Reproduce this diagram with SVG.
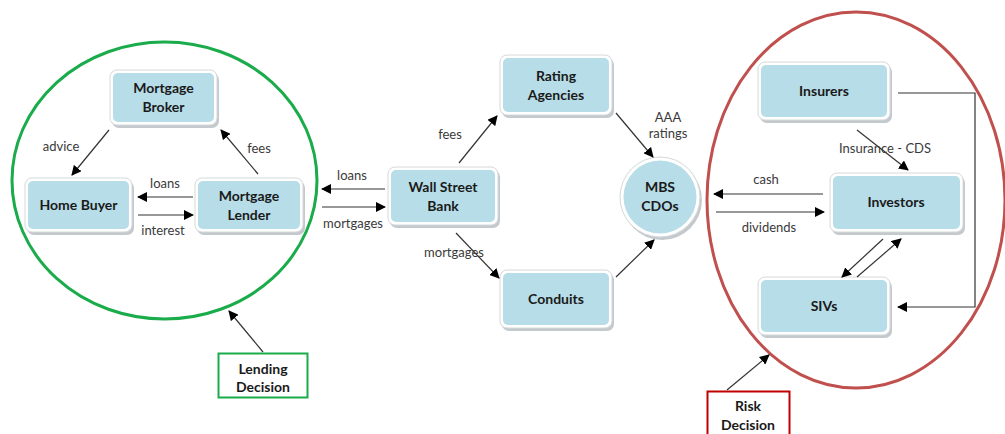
<svg xmlns="http://www.w3.org/2000/svg" width="1005" height="434" viewBox="0 0 1005 434">
<defs>
<marker id="ah" viewBox="0 0 10 10" refX="9" refY="5" markerWidth="10" markerHeight="10" markerUnits="userSpaceOnUse" orient="auto">
<path d="M0,0 L10,5 L0,10 z" fill="#000"/>
</marker>
</defs>
<style>
.sh{fill:#b4bcc0;opacity:0.8}
.out{fill:#ffffff;stroke:#d4d8da;stroke-width:1}
.in{fill:#b7dde8}
.t{font-family:Lato,"Open Sans",sans-serif;font-weight:bold;font-size:14px;fill:#1a1a1a;text-anchor:middle}
.l{font-family:Lato,"Open Sans",sans-serif;font-size:13px;fill:#3a3a3a;text-anchor:middle}
.c{fill:none;stroke:#333;stroke-width:1.2;marker-end:url(#ah)}
.cn{fill:none;stroke:#333;stroke-width:1.2}
</style>
<rect width="1005" height="434" fill="#ffffff"/>
<g id="green-ellipse"><ellipse cx="164.5" cy="180.5" rx="152.5" ry="138.5" fill="none" stroke="#1aab4b" stroke-width="3"/></g>
<g id="red-ellipse"><ellipse cx="856" cy="200" rx="149" ry="188" fill="none" stroke="#c0504d" stroke-width="3"/></g>

<g id="broker"><rect class="sh" x="112" y="73" width="107" height="55" rx="7"/><rect class="out" x="110" y="70" width="107" height="55" rx="7"/><rect class="in" x="113" y="73" width="101" height="49" rx="5"/><text class="t" x="163.5" y="93">Mortgage</text><text class="t" x="163.5" y="112">Broker</text></g>
<g id="homebuyer"><rect class="sh" x="27" y="181" width="107" height="54" rx="7"/><rect class="out" x="25" y="178" width="107" height="54" rx="7"/><rect class="in" x="28" y="181" width="101" height="48" rx="5"/><text class="t" x="78.5" y="210">Home Buyer</text></g>
<g id="lender"><rect class="sh" x="197" y="181" width="108" height="54" rx="7"/><rect class="out" x="195" y="178" width="108" height="54" rx="7"/><rect class="in" x="198" y="181" width="102" height="48" rx="5"/><text class="t" x="249" y="201">Mortgage</text><text class="t" x="249" y="220">Lender</text></g>
<g id="lending-decision"><rect x="218.5" y="353.5" width="89" height="44" fill="#fff" stroke="#1aab4b" stroke-width="2"/><text class="t" x="263" y="374">Lending</text><text class="t" x="263" y="392">Decision</text></g>

<g id="wallstreet"><rect class="sh" x="390" y="170" width="110" height="58" rx="7"/><rect class="out" x="388" y="167" width="110" height="58" rx="7"/><rect class="in" x="391" y="170" width="104" height="52" rx="5"/><text class="t" x="443" y="192">Wall Street</text><text class="t" x="443" y="211">Bank</text></g>
<g id="rating"><rect class="sh" x="502" y="58" width="112" height="60" rx="7"/><rect class="out" x="500" y="55" width="112" height="60" rx="7"/><rect class="in" x="503" y="58" width="106" height="54" rx="5"/><text class="t" x="556" y="81">Rating</text><text class="t" x="556" y="100">Agencies</text></g>
<g id="conduits"><rect class="sh" x="502" y="273" width="112" height="58" rx="7"/><rect class="out" x="500" y="270" width="112" height="58" rx="7"/><rect class="in" x="503" y="273" width="106" height="52" rx="5"/><text class="t" x="556" y="304">Conduits</text></g>
<g id="mbs"><circle class="sh" cx="662" cy="200" r="40"/><circle class="out" cx="660" cy="197" r="40"/><circle class="in" cx="660" cy="197" r="36.5"/><text class="t" x="660" y="192">MBS</text><text class="t" x="660" y="211">CDOs</text></g>

<g id="insurers"><rect class="sh" x="760" y="65" width="132" height="58" rx="7"/><rect class="out" x="758" y="62" width="132" height="58" rx="7"/><rect class="in" x="761" y="65" width="126" height="52" rx="5"/><text class="t" x="824" y="96">Insurers</text></g>
<g id="investors"><rect class="sh" x="832" y="176" width="133" height="59" rx="7"/><rect class="out" x="830" y="173" width="133" height="59" rx="7"/><rect class="in" x="833" y="176" width="127" height="53" rx="5"/><text class="t" x="896" y="207">Investors</text></g>
<g id="sivs"><rect class="sh" x="760" y="280" width="132" height="58" rx="7"/><rect class="out" x="758" y="277" width="132" height="58" rx="7"/><rect class="in" x="761" y="280" width="126" height="52" rx="5"/><text class="t" x="824" y="311">SIVs</text></g>
<g id="risk-decision"><rect x="707.5" y="391.5" width="82" height="50" fill="#fff" stroke="#c00000" stroke-width="2"/><text class="t" x="748" y="411">Risk</text><text class="t" x="748" y="430">Decision</text></g>

<g id="connectors">
<line class="c" x1="109" y1="130" x2="72" y2="175"/>
<line class="c" x1="258" y1="174" x2="221" y2="130"/>
<line class="c" x1="193" y1="197" x2="138" y2="197"/>
<line class="c" x1="138" y1="215" x2="193" y2="215"/>
<line class="c" x1="263" y1="352" x2="229" y2="311"/>
<line class="c" x1="385" y1="189" x2="322" y2="189"/>
<line class="c" x1="322" y1="207" x2="385" y2="207"/>
<line class="c" x1="459" y1="163" x2="497" y2="116"/>
<line class="c" x1="456" y1="233" x2="499" y2="278"/>
<line class="c" x1="616" y1="113" x2="653" y2="157"/>
<line class="c" x1="616" y1="277" x2="654" y2="240"/>
<polyline class="c" points="898,93 975,93 975,307 898,307"/>
<line class="c" x1="857" y1="130" x2="908" y2="170"/>
<line class="c" x1="823" y1="194" x2="714" y2="194"/>
<line class="c" x1="716" y1="212" x2="824" y2="212"/>
<line class="c" x1="883" y1="239" x2="842" y2="277"/>
<line class="c" x1="857" y1="277" x2="901" y2="239"/>
<line class="c" x1="727" y1="390" x2="769" y2="355"/>
</g>
<g id="labels">
<text class="l" x="61" y="151">advice</text>
<text class="l" x="259" y="153">fees</text>
<text class="l" x="165" y="188">loans</text>
<text class="l" x="163" y="235">interest</text>
<text class="l" x="352" y="180">loans</text>
<text class="l" x="353" y="228">mortgages</text>
<text class="l" x="450" y="139">fees</text>
<text class="l" x="454" y="257">mortgages</text>
<text class="l" x="668" y="122">AAA</text>
<text class="l" x="668" y="138">ratings</text>
<text class="l" x="885" y="153">Insurance - CDS</text>
<text class="l" x="766" y="184">cash</text>
<text class="l" x="769" y="232">dividends</text>
</g>
</svg>
